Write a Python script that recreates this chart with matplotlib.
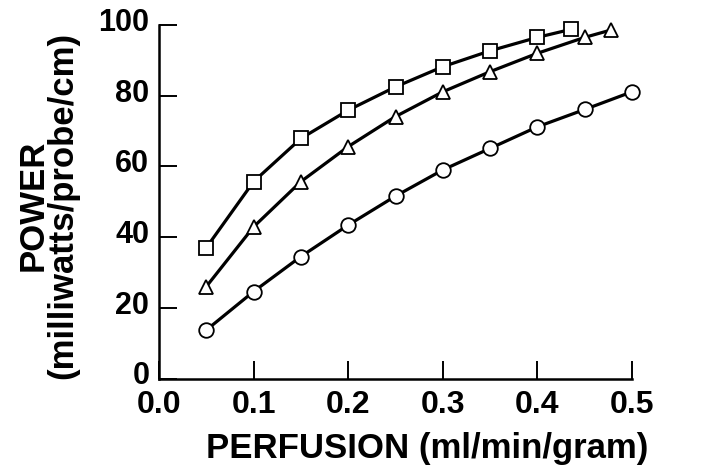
import matplotlib
matplotlib.use("Agg")
import matplotlib.pyplot as plt
import matplotlib.transforms as mtransforms

plt.rcParams['font.family'] = ['Liberation Sans', 'DejaVu Sans']

x_square = [0.05, 0.10, 0.15, 0.20, 0.25, 0.30, 0.35, 0.40, 0.436]
y_square = [37.0, 55.7, 67.9, 75.9, 82.5, 88.2, 92.7, 96.5, 98.8]

x_tri = [0.05, 0.10, 0.15, 0.20, 0.25, 0.30, 0.35, 0.40, 0.45, 0.478]
y_tri = [26.0, 42.9, 55.7, 65.6, 74.1, 81.1, 86.8, 92.0, 96.5, 98.6]

x_circ = [0.05, 0.10, 0.15, 0.20, 0.25, 0.30, 0.35, 0.40, 0.45, 0.50]
y_circ = [13.7, 24.6, 34.5, 43.4, 51.6, 59.0, 65.1, 71.2, 76.1, 81.1]

xticks = [0.0, 0.1, 0.2, 0.3, 0.4, 0.5]
xticklabels = ["0.0", "0.1", "0.2", "0.3", "0.4", "0.5"]
yticks = [0, 20, 40, 60, 80, 100]
yticklabels = ["0", "20", "40", "60", "80", "100"]

fig = plt.figure(figsize=(7.1, 4.71), dpi=100)
ax = fig.add_axes([159/710, 1-378.5/471, (632-159)/710, (378.5-25)/471])

style = dict(color='black', lw=2.3, markerfacecolor='white', markeredgecolor='black',
             markeredgewidth=1.3, clip_on=False, zorder=3)
ax.plot(x_square, y_square, marker='s', markersize=10.5, **style)
ax.plot(x_tri, y_tri, marker='^', markersize=10.5, **style)
ax.plot(x_circ, y_circ, marker='o', markersize=10.5, **style)

ax.set_xlim(0, 0.5)
ax.set_ylim(0, 100)
ax.set_xticks(xticks)
ax.set_xticklabels(xticklabels)
ax.set_yticks(yticks)
ax.set_yticklabels(yticklabels)

for s in ['top', 'right']:
    ax.spines[s].set_visible(False)
for s in ['left', 'bottom']:
    ax.spines[s].set_linewidth(1.8)

ax.tick_params(direction='in', length=13, width=1.4)
ax.tick_params(axis='x', labelsize=23, pad=8)
ax.tick_params(axis='y', labelsize=22, pad=7)
offset = mtransforms.ScaledTranslation(0, 4/72, fig.dpi_scale_trans)
for lab in ax.get_yticklabels():
    lab.set_fontweight('bold')
    lab.set_transform(lab.get_transform() + offset)
for lab in ax.get_xticklabels():
    lab.set_fontweight('bold')

ax.set_xlabel("PERFUSION (ml/min/gram)", fontsize=25, fontweight='bold')
ax.xaxis.set_label_coords(0.566, -0.152)
ax.set_ylabel("POWER\n(milliwatts/probe/cm)", fontsize=25, fontweight='bold',
              linespacing=0.9)
ax.yaxis.set_label_coords(-0.235, 0.49)
ax.yaxis.label.set_va('center')

fig.savefig("out.png", dpi=100)
